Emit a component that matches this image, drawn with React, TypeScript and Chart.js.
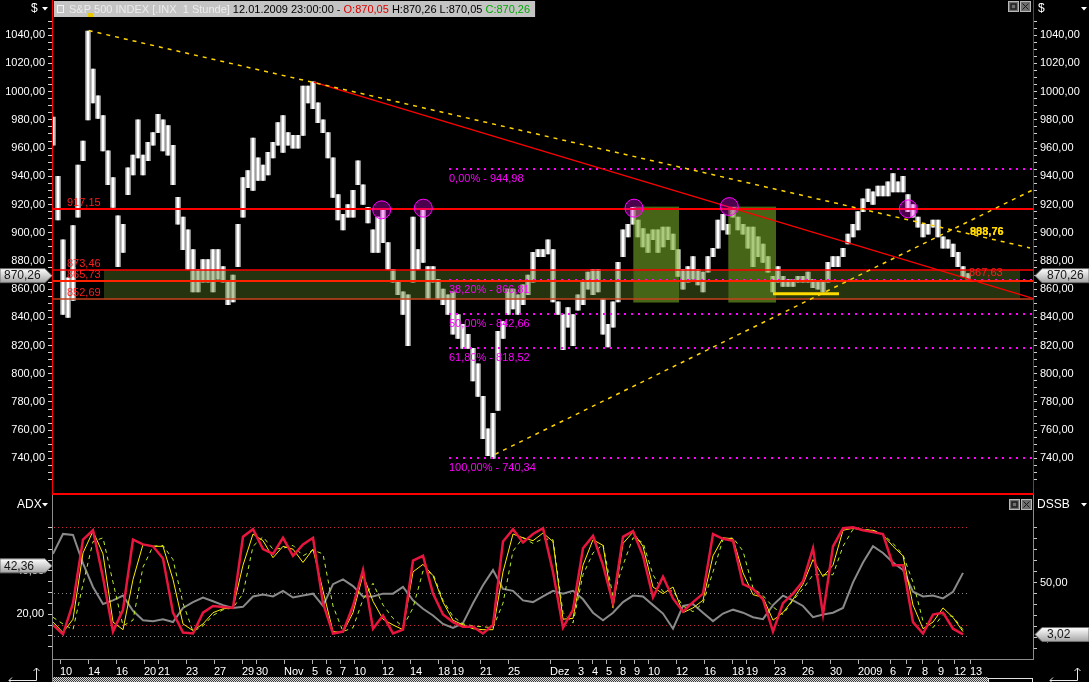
import React, { useEffect, useRef } from 'react';
import { Chart, registerables } from 'chart.js';

Chart.register(...registerables);

// ---------------- data ----------------
// hourly S&P 500 price range, one sample per 2.5 hourly slots (Oct 9 2008 .. Jan 12 2009)
const priceLow = [
  962, 909, 842, 840, 852, 911, 951, 980, 992, 981,
  958, 934, 918, 876, 886, 927, 941, 953, 941, 951,
  962, 971, 958, 955, 934, 906, 888, 874, 858, 858,
  865, 865, 858, 867, 865, 849, 851, 876, 911, 932,
  930, 937, 937, 941, 953, 962, 957, 962, 960, 960,
  969, 992, 988, 978, 971, 953, 925, 909, 902, 911,
  911, 934, 920, 907, 886, 886, 893, 874, 865, 856,
  842, 820, 865, 874, 879, 853, 865, 853, 849, 842,
  828, 825, 818, 818, 795, 784, 754, 742, 740, 774,
  825, 842, 846, 842, 849, 856, 865, 883, 883, 885,
  851, 842, 817, 833, 820, 845, 849, 860, 856, 858,
  828, 819, 833, 851, 883, 897, 906, 897, 890, 886,
  895, 886, 890, 895, 888, 869, 860, 865, 867, 863,
  858, 872, 883, 889, 902, 899, 911, 902, 899, 889,
  876, 883, 879, 872, 858, 865, 862, 862, 862, 865,
  865, 865, 861, 860, 858, 865, 876, 876, 883, 892,
  897, 902, 915, 922, 920, 926, 926, 926, 929, 929,
  929, 915, 911, 904, 897, 899, 904, 897, 889, 889,
  883, 876, 869, 867,
];
const priceHigh = [
  982, 940, 895, 868, 905, 948, 965, 1043, 1016, 997,
  983, 958, 939, 912, 906, 946, 955, 980, 955, 964,
  971, 984, 980, 976, 962, 925, 911, 902, 888, 874,
  881, 881, 888, 888, 876, 865, 870, 906, 939, 944,
  967, 953, 948, 957, 964, 978, 983, 971, 969, 969,
  1004, 1004, 1007, 992, 980, 971, 953, 927, 913, 920,
  930, 951, 934, 918, 902, 911, 916, 893, 874, 865,
  858, 856, 911, 888, 916, 876, 876, 867, 860, 856,
  858, 842, 835, 828, 818, 807, 784, 761, 772, 830,
  837, 860, 860, 856, 863, 870, 886, 888, 888, 895,
  888, 851, 842, 847, 842, 856, 865, 872, 874, 874,
  853, 835, 851, 879, 902, 906, 918, 909, 903, 899,
  902, 902, 904, 904, 899, 888, 874, 876, 883, 874,
  872, 883, 889, 909, 913, 906, 918, 911, 906, 904,
  904, 897, 892, 883, 869, 876, 869, 867, 867, 869,
  869, 872, 867, 865, 865, 879, 883, 883, 889, 899,
  906, 915, 924, 931, 929, 933, 933, 936, 942, 936,
  940, 927, 920, 911, 906, 906, 909, 909, 897, 895,
  892, 886, 876, 871,
];

// indicator pane, one sample per 5 hourly slots
const dssbLine = [
  11.7, 3.2, 31.4, 88.8, 97.3, 54.5, 5.7, 25.4, 88.8, 84.5,
  82.8, 71.7, 22.8, 4.9, 4.0, 22.8, 28.8, 27.9, 27.1, 91.4,
  98.2, 80.2, 75.9, 90.5, 74.2, 84.5, 90.5, 31.4, 4.0, 5.7,
  28.8, 61.4, 8.3, 20.3, 4.0, 7.4, 69.9, 74.2, 40.0, 21.1,
  14.3, 10.0, 10.0, 4.0, 11.7, 87.1, 98.2, 86.2, 93.9, 99.1,
  59.7, 9.2, 25.4, 81.1, 92.2, 65.7, 31.4, 91.4, 96.5, 74.2,
  36.6, 55.4, 35.7, 23.7, 32.3, 40.0, 93.9, 89.6, 87.9, 48.5,
  44.3, 34.8, 5.7, 31.4, 40.0, 51.1, 81.1, 21.1, 82.8, 99.1,
  99.9, 97.3, 95.6, 93.9, 65.7, 65.7, 14.3, 4.0, 21.1, 22.8,
  8.3, 3.2,
];
const dssbSignal = [
  14.3, 4.9, 16.9, 76.8, 96.5, 75.9, 14.3, 7.4, 52.8, 84.5,
  82.8, 82.8, 52.8, 12.6, 6.6, 12.6, 22.8, 26.3, 27.1, 65.7,
  93.9, 87.9, 72.5, 82.8, 80.2, 68.2, 80.2, 42.6, 5.7, 4.9,
  22.8, 57.1, 33.1, 16.9, 11.7, 7.4, 59.7, 66.5, 56.3, 32.3,
  16.0, 11.7, 8.3, 7.4, 7.4, 59.7, 93.9, 90.5, 87.9, 94.8,
  87.1, 16.9, 17.7, 65.7, 88.8, 83.6, 27.1, 85.4, 95.6, 82.8,
  46.0, 40.0, 46.0, 22.8, 27.1, 34.0, 74.2, 90.5, 89.6, 58.8,
  39.1, 36.6, 16.0, 22.8, 34.8, 48.5, 70.8, 55.4, 65.7, 97.3,
  99.1, 97.3, 97.3, 93.1, 82.8, 74.2, 29.7, 8.3, 14.3, 27.1,
  18.5, 5.7,
];
const dssbSlow = [
  18.6, 12.6, 7.4, 48.5, 87.1, 90.5, 50.3, 10.9, 16.0, 64.0,
  82.8, 83.6, 70.8, 31.4, 5.7, 10.9, 20.3, 25.4, 27.1, 40.0,
  82.8, 91.4, 80.2, 81.1, 83.6, 74.2, 79.4, 75.9, 28.8, 5.7,
  9.2, 34.8, 49.4, 29.7, 17.7, 10.0, 27.1, 60.5, 58.0, 34.0,
  19.4, 12.6, 10.9, 10.0, 9.2, 31.4, 78.5, 90.5, 85.4, 89.6,
  88.8, 22.8, 13.4, 57.1, 76.8, 84.5, 37.4, 65.7, 90.5, 86.2,
  57.1, 41.7, 42.6, 28.8, 23.7, 31.4, 59.7, 88.8, 90.5, 78.5,
  45.1, 38.3, 28.0, 21.1, 34.0, 44.3, 57.1, 57.1, 57.1, 82.8,
  98.2, 98.2, 97.3, 93.9, 85.4, 75.1, 50.3, 15.2, 9.2, 21.1,
  19.4, 7.4,
];
const adxLine = [
  47.9, 57.1, 56.6, 43.5, 32.6, 24.7, 26.4, 28.6, 21.6, 17.2,
  16.8, 17.7, 16.4, 22.9, 25.6, 27.7, 26.0, 24.2, 22.9, 23.4,
  28.2, 29.1, 28.2, 30.8, 27.7, 28.6, 29.5, 23.8, 33.9, 36.1,
  33.0, 28.2, 28.2, 29.5, 29.5, 32.6, 26.4, 22.5, 19.4, 15.5,
  13.7, 15.9, 25.1, 33.4, 40.4, 31.7, 30.8, 26.4, 25.6, 28.2,
  30.8, 29.5, 30.8, 26.9, 20.7, 17.2, 20.7, 25.6, 28.6, 28.2,
  24.2, 20.3, 13.3, 23.8, 24.7, 20.7, 16.8, 20.3, 22.1, 20.7,
  18.6, 17.7, 24.2, 28.6, 26.4, 23.8, 18.6, 19.9, 20.7, 22.9,
  34.7, 43.9, 51.4, 48.3, 43.9, 40.4, 30.4, 28.2, 28.6, 27.3,
  30.4, 39.1,
];

// x axis: trading-day index (0 = Oct 9 2008) and its label
const xTickDays = [1, 3, 5, 7, 8, 10, 12, 14, 15, 17, 19, 20, 21, 22, 24, 26, 28, 29, 31, 33, 36, 38, 39, 40, 41, 42, 43, 45, 47, 49, 50, 52, 54, 56, 58, 60, 61, 62, 63, 64, 65];
const xTickLabels = ['10', '14', '16', '20', '21', '23', '27', '29', '30', 'Nov', '5', '6', '7', '10', '12', '14', '18', '19', '21', '25', 'Dez', '3', '4', '5', '8', '9', '10', '12', '16', '18', '19', '23', '26', '30', '2009', '6', '7', '8', '9', '12', '13'];

// levels and drawing objects (slot, price)
const supportLevels = [917.15, 873.46, 865.73, 852.69];
const fibLevels = [944.98, 866.81, 842.66, 818.52, 740.34];
const fibNames = ['0,00%', '38,20%', '50,00%', '61,80%', '100,00%'];
const fibStartSlot = 201.5;
const redTrend = [[133.85, 1006.7], [493.5, 853.4]];
const yellowTrendDown = [[21.35, 1043.3], [492, 889.2]];
const yellowTrendUp = [[224.5, 742.9], [493.5, 930.4]];
const yellowFloor = [[363.5, 856.8], [396.5, 856.8]];
const zoneSlots = [29, 487];
const boxSlots = [[293.65, 316.5], [341.15, 365]];
const boxPrices = [918.5, 850.5];
const touchMarks = [[167.85, 916.2], [188.65, 917.4], [294, 917.4], [341.65, 918.5], [431.15, 916.9]];
const trendEndLabel = 867.63;
const trendValueLabels = ['888,76', '903,76'];
const lastOpen = 870.05;
const lastHigh = 870.26;
const lastLow = 870.05;
const lastClose = 870.26;
const lastADX = 42.36;
const lastDSSB = 3.02;
const lastSlot = 461;
const dssbDotLevels = [100, 12];
const adxDotLevels = [30, 10];

// ---------------- helpers ----------------
const FONT = "'Liberation Sans', Arial, sans-serif";
const fmt = (v: number) => v.toFixed(2).replace('.', ',');
const X_MIN = 3;
const X_MAX = 493.5;
const daySlot = (d: number) => (d <= 58 ? d * 7 : 406 + (d - 58) * 8);
const priceSlot = (i: number) => 3.5 + 2.5 * i;
const indSlot = (i: number) => 3.5 + 5 * i;

function downTriangle(ctx: any, x: number, y: number, w: number) {
  ctx.beginPath();
  ctx.moveTo(x, y);
  ctx.lineTo(x + w, y);
  ctx.lineTo(x + w / 2, y + w / 2 + 0.5);
  ctx.closePath();
  ctx.fill();
}

function winButton(ctx: any, x: number, y: number, kind: string) {
  ctx.fillStyle = '#6e6e6e';
  ctx.fillRect(x, y, 11, 11);
  ctx.strokeStyle = '#b8b8b8';
  ctx.lineWidth = 1;
  ctx.strokeRect(x + 0.5, y + 0.5, 10, 10);
  ctx.strokeStyle = '#1c1c1c';
  if (kind === 'max') {
    ctx.lineWidth = 1.5;
    ctx.strokeRect(x + 3, y + 3, 5, 5);
  } else {
    ctx.lineWidth = 1;
    ctx.beginPath();
    ctx.moveTo(x + 2.5, y + 2.5);
    ctx.lineTo(x + 8.5, y + 8.5);
    ctx.moveTo(x + 8.5, y + 2.5);
    ctx.lineTo(x + 2.5, y + 8.5);
    ctx.stroke();
  }
}

function valueTag(ctx: any, y: number, side: string, tip: number, text: string) {
  const h = 7;
  ctx.save();
  ctx.beginPath();
  if (side === 'left') {
    ctx.moveTo(0, y - h);
    ctx.lineTo(tip - 7, y - h);
    ctx.lineTo(tip, y);
    ctx.lineTo(tip - 7, y + h);
    ctx.lineTo(0, y + h);
  } else {
    ctx.moveTo(1089, y - h);
    ctx.lineTo(tip + 7, y - h);
    ctx.lineTo(tip, y);
    ctx.lineTo(tip + 7, y + h);
    ctx.lineTo(1089, y + h);
  }
  ctx.closePath();
  const g = ctx.createLinearGradient(0, y - h, 0, y + h);
  g.addColorStop(0, '#ffffff');
  g.addColorStop(1, '#a4a4a4');
  ctx.fillStyle = g;
  ctx.fill();
  ctx.strokeStyle = '#707070';
  ctx.lineWidth = 1;
  ctx.stroke();
  ctx.fillStyle = '#161616';
  ctx.font = `12px ${FONT}`;
  ctx.textBaseline = 'middle';
  ctx.textAlign = 'left';
  ctx.fillText(text, side === 'left' ? 4 : tip + 12, y + 0.5);
  ctx.restore();
}

function cornerArrow(ctx: any, x0: number, x1: number, yBase: number, yTop: number) {
  ctx.save();
  ctx.strokeStyle = '#e8e8e8';
  ctx.lineWidth = 1;
  ctx.beginPath();
  ctx.moveTo(x0, yBase + 0.5);
  ctx.lineTo(x1 + 0.5, yBase + 0.5);
  ctx.lineTo(x1 + 0.5, yTop);
  ctx.moveTo(x1 - 2.5, yTop + 3);
  ctx.lineTo(x1 + 0.5, yTop);
  ctx.lineTo(x1 + 3.5, yTop + 3);
  ctx.moveTo(x0 + 3, yBase - 2.5);
  ctx.lineTo(x0, yBase + 0.5);
  ctx.lineTo(x0 + 3, yBase + 3.5);
  ctx.stroke();
  ctx.restore();
}

// ---------------- plugins ----------------
const topPlugin = {
  id: 'topOverlay',
  afterDatasetsDraw(chart: any) {
    const { ctx, chartArea: ca } = chart;
    const X = (v: number) => chart.scales.x.getPixelForValue(v);
    const Y = (v: number) => chart.scales.y.getPixelForValue(v);
    ctx.save();
    ctx.beginPath();
    ctx.rect(ca.left, ca.top, ca.right - ca.left, ca.bottom - ca.top);
    ctx.clip();

    // dark green zone (split around the bright boxes)
    const zTop = Y(supportLevels[1]);
    const zBot = Y(supportLevels[3]);
    const segs = [
      [zoneSlots[0], boxSlots[0][0]],
      [boxSlots[0][1], boxSlots[1][0]],
      [boxSlots[1][1], zoneSlots[1]],
    ];
    ctx.fillStyle = 'rgba(90,122,36,0.42)';
    segs.forEach(([a, b]) => ctx.fillRect(X(a), zTop, X(b) - X(a), zBot - zTop));
    ctx.fillStyle = 'rgba(118,168,36,0.6)';
    boxSlots.forEach(([a, b]) => ctx.fillRect(X(a), Y(boxPrices[0]), X(b) - X(a), Y(boxPrices[1]) - Y(boxPrices[0])));

    // fibonacci dotted lines
    ctx.strokeStyle = '#ff00ff';
    ctx.lineWidth = 2;
    ctx.setLineDash([2, 5]);
    fibLevels.forEach((v) => {
      const y = Math.round(Y(v));
      ctx.beginPath();
      ctx.moveTo(X(fibStartSlot), y);
      ctx.lineTo(ca.right, y);
      ctx.stroke();
    });
    ctx.setLineDash([]);

    // horizontal support / resistance lines
    const styles = [['#ff0000', 2], ['#ff0000', 1.5], ['#ff2200', 2], ['#c4421c', 1.5]];
    supportLevels.forEach((v, i) => {
      ctx.strokeStyle = styles[i][0];
      ctx.lineWidth = styles[i][1];
      const y = Math.round(Y(v));
      ctx.beginPath();
      ctx.moveTo(ca.left, y);
      ctx.lineTo(ca.right, y);
      ctx.stroke();
    });

    // trend lines
    const seg = (p: number[][], color: string, w: number, dash: number[]) => {
      ctx.strokeStyle = color;
      ctx.lineWidth = w;
      ctx.setLineDash(dash);
      ctx.beginPath();
      ctx.moveTo(X(p[0][0]), Y(p[0][1]));
      ctx.lineTo(X(p[1][0]), Y(p[1][1]));
      ctx.stroke();
      ctx.setLineDash([]);
    };
    seg(redTrend, '#ff0000', 1.3, []);
    seg(yellowTrendDown, '#ffd400', 1.5, [4, 5]);
    seg(yellowTrendUp, '#ffd400', 1.5, [4, 5]);
    seg(yellowFloor, '#ffdc00', 3, []);

    // touch circles
    touchMarks.forEach(([s, p]) => {
      ctx.beginPath();
      ctx.arc(X(s), Y(p), 9, 0, Math.PI * 2);
      ctx.fillStyle = 'rgba(255,0,255,0.3)';
      ctx.fill();
      ctx.strokeStyle = '#ff00ff';
      ctx.lineWidth = 1;
      ctx.stroke();
    });
    ctx.restore();

    // texts
    ctx.save();
    ctx.font = `11px ${FONT}`;
    ctx.textBaseline = 'middle';
    ctx.textAlign = 'left';
    ctx.fillStyle = '#ff1e1e';
    supportLevels.forEach((v) => ctx.fillText(fmt(v), 67, Y(v) - 6));
    ctx.fillText(fmt(trendEndLabel), 969, Y(trendEndLabel) - 5);
    ctx.fillStyle = '#ff00ff';
    fibLevels.forEach((v, i) => ctx.fillText(`${fibNames[i]} - ${fmt(v)}`, X(fibStartSlot), Y(v) + 10));
    ctx.font = `bold 11px ${FONT}`;
    ctx.fillStyle = '#ffd800';
    trendValueLabels.forEach((t) => ctx.fillText(t, 970, 232));
    ctx.restore();
  },
  afterDraw(chart: any) {
    const { ctx } = chart;
    const Y = (v: number) => chart.scales.y.getPixelForValue(v);
    ctx.save();
    // pane frame
    ctx.strokeStyle = '#ff0000';
    ctx.lineWidth = 1;
    ctx.beginPath();
    ctx.moveTo(52.5, 0);
    ctx.lineTo(52.5, 494);
    ctx.moveTo(1033.5, 0);
    ctx.lineTo(1033.5, 494);
    ctx.stroke();
    ctx.lineWidth = 2;
    ctx.beginPath();
    ctx.moveTo(52, 494);
    ctx.lineTo(1034, 494);
    ctx.stroke();

    // header
    ctx.font = `12px ${FONT}`;
    ctx.textBaseline = 'middle';
    ctx.textAlign = 'left';
    ctx.fillStyle = '#ffffff';
    ctx.fillText('$', 31, 9);
    downTriangle(ctx, 42, 7, 6);
    ctx.fillText('$', 1038, 9);
    downTriangle(ctx, 1081, 7, 6);
    winButton(ctx, 1008, 1, 'max');
    winButton(ctx, 1020, 1, 'close');

    ctx.font = `11px ${FONT}`;
    const parts = [
      ['S&P 500 INDEX [.INX  1 Stunde] ', '#ececec'],
      ['12.01.2009 23:00:00 - ', '#000000'],
      [`O:${fmt(lastOpen)}`, '#e00000'],
      [` H:${fmt(lastHigh)} L:${fmt(lastLow)} `, '#000000'],
      [`C:${fmt(lastClose)}`, '#00a800'],
    ];
    const total = parts.reduce((s, p) => s + ctx.measureText(p[0]).width, 0);
    ctx.fillStyle = '#c4c4c4';
    ctx.fillRect(54, 1, 16 + total + 4, 16);
    ctx.strokeStyle = '#f2f2f2';
    ctx.lineWidth = 1;
    ctx.strokeRect(57.5, 5.5, 6, 7);
    let x = 69;
    parts.forEach(([t, c]) => {
      ctx.fillStyle = c;
      ctx.fillText(t, x, 9.5);
      x += ctx.measureText(t).width;
    });
    ctx.fillStyle = '#e8c800';
    ctx.fillRect(88, 13, 5, 4);

    // last price tags
    const yc = Y(lastClose) + 1;
    valueTag(ctx, yc, 'left', 52, fmt(lastClose));
    valueTag(ctx, yc, 'right', 1035, fmt(lastClose));
    ctx.restore();
  },
};

const lowerPlugin = {
  id: 'lowerOverlay',
  beforeDatasetsDraw(chart: any) {
    const { ctx, chartArea: ca } = chart;
    const X = (v: number) => chart.scales.x.getPixelForValue(v);
    ctx.save();
    ctx.lineWidth = 1;
    ctx.setLineDash([1, 3]);
    const dot = (y: number, color: string) => {
      ctx.strokeStyle = color;
      ctx.beginPath();
      ctx.moveTo(ca.left + 2, Math.round(y) + 0.5);
      ctx.lineTo(X(lastSlot), Math.round(y) + 0.5);
      ctx.stroke();
    };
    dssbDotLevels.forEach((v) => dot(chart.scales.dssb.getPixelForValue(v), '#c8283c'));
    adxDotLevels.forEach((v) => dot(chart.scales.adx.getPixelForValue(v), '#8c8c8c'));
    ctx.restore();
  },
  afterDraw(chart: any) {
    const { ctx } = chart;
    ctx.save();
    // frame
    ctx.strokeStyle = '#8c8c8c';
    ctx.lineWidth = 1;
    ctx.beginPath();
    ctx.moveTo(52.5, 0);
    ctx.lineTo(52.5, 187);
    ctx.moveTo(1033.5, 0);
    ctx.lineTo(1033.5, 165);
    ctx.stroke();

    // titles
    ctx.font = `12px ${FONT}`;
    ctx.textBaseline = 'middle';
    ctx.textAlign = 'left';
    ctx.fillStyle = '#ffffff';
    ctx.fillText('ADX', 17, 10);
    downTriangle(ctx, 42, 8, 6);
    ctx.fillText('DSSB', 1037, 10);
    downTriangle(ctx, 1081, 8, 6);
    winButton(ctx, 1009, 4, 'max');
    winButton(ctx, 1021, 4, 'close');

    // value tags
    valueTag(ctx, chart.scales.adx.getPixelForValue(lastADX), 'left', 52, fmt(lastADX));
    valueTag(ctx, chart.scales.dssb.getPixelForValue(lastDSSB), 'right', 1035, fmt(lastDSSB));

    // scroll strip
    const pc = document.createElement('canvas');
    pc.width = 2;
    pc.height = 2;
    const p = pc.getContext('2d') as any;
    p.fillStyle = '#3a3a3a';
    p.fillRect(0, 0, 2, 2);
    p.fillStyle = '#d8d8d8';
    p.fillRect(0, 0, 1, 1);
    p.fillRect(1, 1, 1, 1);
    ctx.fillStyle = ctx.createPattern(pc, 'repeat');
    ctx.fillRect(53, 182, 935, 5);
    ctx.fillStyle = '#000';
    ctx.fillRect(988, 182, 45, 5);
    ctx.strokeStyle = '#e0e0e0';
    ctx.strokeRect(988.5, 183.5, 44, 4);

    cornerArrow(ctx, 9, 36, 185, 173);
    cornerArrow(ctx, 1050, 1077, 185, 173);
    ctx.restore();
  },
};

// ---------------- chart configs ----------------
const tickFont = { family: FONT, size: 11 };

function priceAxis(position: string, width: number) {
  return {
    type: 'linear',
    axis: 'y',
    position,
    min: 720.86,
    max: 1050.79,
    afterFit: (s: any) => {
      s.width = width;
    },
    ticks: {
      stepSize: 5,
      includeBounds: false,
      autoSkip: false,
      color: '#ffffff',
      padding: 3,
      font: tickFont,
      callback: (v: number) => (Math.abs(v % 20) < 1e-6 ? fmt(v) : ''),
    },
    grid: { drawOnChartArea: false, drawTicks: true, tickLength: 4, color: '#d0d0d0' },
    border: { display: false },
  };
}

function makeTopConfig(): any {
  const ranges = priceLow.map((lo, i) => ({ x: priceSlot(i), y: [lo, priceHigh[i]] }));
  return {
    type: 'bar',
    data: {
      datasets: [
        {
          data: ranges,
          backgroundColor: '#ffffff',
          borderWidth: 0,
          barThickness: 2,
          grouped: false,
          xAxisID: 'x',
          yAxisID: 'y',
        },
        {
          data: ranges,
          backgroundColor: '#a2a2a2',
          borderWidth: 0,
          barThickness: 5,
          grouped: false,
          xAxisID: 'x',
          yAxisID: 'y',
        },
      ],
    },
    options: {
      responsive: false,
      maintainAspectRatio: false,
      animation: false,
      devicePixelRatio: 1,
      events: [],
      layout: { padding: { top: 20, bottom: 1, left: 0, right: 0 } },
      plugins: { legend: { display: false }, tooltip: { enabled: false } },
      scales: {
        x: { type: 'linear', min: X_MIN, max: X_MAX, display: false, offset: false },
        y: priceAxis('left', 52),
        yR: priceAxis('right', 56),
      },
    },
    plugins: [topPlugin],
  };
}

function makeLowerConfig(): any {
  const series = (arr: number[]) => arr.map((v, i) => ({ x: indSlot(i), y: v }));
  return {
    type: 'line',
    data: {
      datasets: [
        { data: series(dssbLine), borderColor: '#e8163e', borderWidth: 2.5, yAxisID: 'dssb' },
        { data: series(dssbSignal), borderColor: '#ffec00', borderWidth: 1, yAxisID: 'dssb' },
        { data: series(dssbSlow), borderColor: '#b8f028', borderWidth: 1, borderDash: [4, 4], yAxisID: 'dssb' },
        { data: series(adxLine), borderColor: '#8a8a8a', borderWidth: 2, yAxisID: 'adx' },
      ],
    },
    options: {
      responsive: false,
      maintainAspectRatio: false,
      animation: false,
      devicePixelRatio: 1,
      events: [],
      elements: { point: { radius: 0 }, line: { tension: 0, fill: false } },
      layout: { padding: { top: 2, bottom: 0, left: 0, right: 0 } },
      plugins: { legend: { display: false }, tooltip: { enabled: false } },
      scales: {
        x: {
          type: 'linear',
          min: X_MIN,
          max: X_MAX,
          offset: false,
          afterBuildTicks: (s: any) => {
            s.ticks = xTickDays.map((d) => ({ value: daySlot(d) }));
          },
          afterFit: (s: any) => {
            s.height = 23;
          },
          ticks: {
            autoSkip: false,
            maxRotation: 0,
            minRotation: 0,
            align: 'start',
            color: '#ffffff',
            padding: 1,
            font: tickFont,
            callback: (_v: number, i: number) => xTickLabels[i],
          },
          grid: { drawOnChartArea: false, drawTicks: true, tickLength: 5, color: '#b4b4b4' },
          border: { display: true, color: '#8c8c8c', width: 1 },
        },
        adx: {
          type: 'linear',
          axis: 'y',
          position: 'left',
          min: -0.7,
          max: 70.2,
          afterFit: (s: any) => {
            s.width = 52;
          },
          afterBuildTicks: (s: any) => {
            s.ticks = s.ticks.filter((t: any) => t.value >= 5 && t.value <= 60);
          },
          ticks: {
            stepSize: 5,
            includeBounds: false,
            autoSkip: false,
            color: '#ffffff',
            padding: 4,
            font: tickFont,
            callback: (v: number) => (v === 20 || v === 40 ? fmt(v) : ''),
          },
          grid: { drawOnChartArea: false, drawTicks: true, tickLength: 4, color: '#c8c8c8' },
          border: { display: false },
        },
        dssb: {
          type: 'linear',
          axis: 'y',
          position: 'right',
          min: -19.09,
          max: 119.6,
          afterFit: (s: any) => {
            s.width = 56;
          },
          afterBuildTicks: (s: any) => {
            s.ticks = s.ticks.filter((t: any) => t.value >= -10 && t.value <= 100);
          },
          ticks: {
            stepSize: 10,
            includeBounds: false,
            autoSkip: false,
            color: '#ffffff',
            padding: 3,
            font: tickFont,
            callback: (v: number) => (v === 0 || v === 50 ? fmt(v) : ''),
          },
          grid: { drawOnChartArea: false, drawTicks: true, tickLength: 4, color: '#c8c8c8' },
          border: { display: false },
        },
      },
    },
    plugins: [lowerPlugin],
  };
}

export default function App() {
  const topRef = useRef<HTMLCanvasElement>(null);
  const lowRef = useRef<HTMLCanvasElement>(null);

  useEffect(() => {
    const top = new Chart(topRef.current as any, makeTopConfig());
    const low = new Chart(lowRef.current as any, makeLowerConfig());
    return () => {
      top.destroy();
      low.destroy();
    };
  }, []);

  return (
    <div style={{ position: 'fixed', left: 0, top: 0, width: 1089, height: 682, background: '#000', overflow: 'hidden' }}>
      <canvas ref={topRef} width={1089} height={495} style={{ position: 'absolute', left: 0, top: 0, width: 1089, height: 495 }} />
      <canvas ref={lowRef} width={1089} height={187} style={{ position: 'absolute', left: 0, top: 495, width: 1089, height: 187 }} />
    </div>
  );
}
